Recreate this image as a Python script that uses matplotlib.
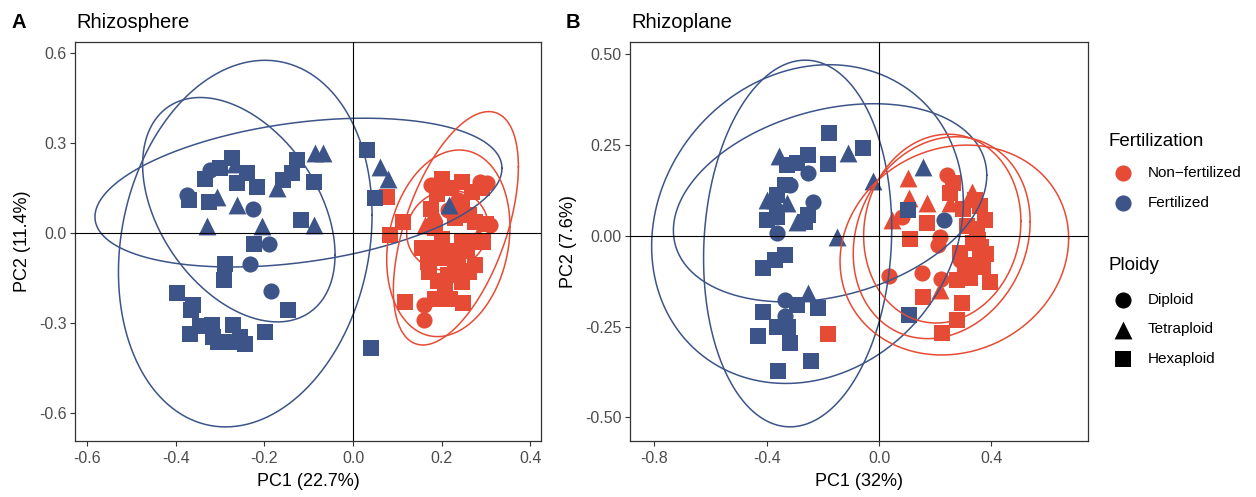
import numpy as np
import matplotlib
matplotlib.use("Agg")
import matplotlib.pyplot as plt
from matplotlib.ticker import FixedLocator, FormatStrFormatter

plt.rcParams['font.family'] = ['Liberation Sans', 'DejaVu Sans']
plt.rcParams['axes.unicode_minus'] = False

# ---------------- data ----------------
fert_colors = {"N": "#E64B35", "F": "#3C5488"}
fert_labels = ["Non\u2212fertilized", "Fertilized"]
ploidy_markers = {"D": "o", "T": "^", "H": "s"}
ploidy_labels = ["Diploid", "Tetraploid", "Hexaploid"]

# Panel A: Rhizosphere
rs_pc1 = [-0.272, -0.300, -0.322, -0.334, -0.240, -0.262, -0.217, -0.375, -0.371, -0.324,
          -0.307, -0.262, -0.225, -0.172, -0.157, -0.138, -0.127, -0.086, -0.068, -0.088,
          -0.117, -0.088, -0.329, -0.206, -0.266, -0.223, -0.189, -0.289, -0.232, -0.292,
          -0.186, -0.398, -0.361, -0.366, -0.146, -0.368, -0.345, -0.319, -0.315, -0.270,
          -0.255, -0.244, -0.277, -0.304, -0.198, 0.032, 0.040, 0.061, 0.080, 0.050, 0.217,
          0.076, 0.113, 0.083, 0.200, 0.177, 0.245, 0.286, 0.268, 0.177, 0.245,
          0.309, 0.275, 0.162, 0.230, 0.200, 0.207, 0.155, 0.245, 0.275, 0.170,
          0.200, 0.237, 0.275, 0.215, 0.245, 0.207, 0.185, 0.117, 0.159, 0.219,
          0.249, 0.159, 0.185, 0.294, 0.282, 0.214, 0.302, 0.183, 0.237,
          0.190, 0.222, 0.262, 0.190, 0.222, 0.258, 0.172, 0.230, 0.262, 0.192,
          0.292, 0.300]
rs_pc2 = [0.249, 0.216, 0.210, 0.182, 0.199, 0.166, 0.154, 0.127, 0.110, 0.104,
          0.121, 0.093, 0.082, 0.149, 0.177, 0.199, 0.243, 0.266, 0.266, 0.171,
          0.043, 0.027, 0.023, 0.023, 0.232, -0.037, -0.037, -0.103, -0.103, -0.157,
          -0.192, -0.201, -0.238, -0.257, -0.257, -0.337, -0.310, -0.307, -0.346, -0.307,
          -0.346, -0.368, -0.362, -0.362, -0.331, 0.277, -0.384, 0.221, 0.182, 0.116, 0.093,
          0.121, 0.038, -0.007, 0.182, 0.160, 0.171, 0.171, 0.138, 0.082, 0.099,
          0.027, 0.038, 0.027, 0.049, -0.018, -0.029, -0.051, -0.029, -0.029, -0.096,
          -0.084, -0.084, -0.107, -0.140, -0.162, -0.184, -0.218, -0.229, -0.240, -0.218,
          -0.234, -0.290, 0.016, -0.029, -0.007, 0.077, 0.167, 0.070, 0.110,
          0.130, 0.150, 0.060, -0.050, -0.060, -0.060, -0.130, -0.110, -0.130, -0.160,
          0.150, 0.030]
rs_fert = ["F"] * 51 + ["N"] * 51
rs_ploidy = ["H", "H", "D", "H", "H", "H", "H", "D", "H", "H",
             "T", "T", "D", "T", "H", "H", "H", "T", "T", "H",
             "H", "T", "T", "T", "T", "H", "D", "H", "D", "H",
             "D", "H", "H", "H", "H", "H", "H", "H", "H", "H",
             "H", "H", "H", "H", "H", "H", "H", "T", "T", "H", "T",
             "H", "H", "H", "H", "D", "H", "D", "H", "H", "H",
             "D", "H", "T", "H", "H", "T", "H", "H", "H", "H",
             "H", "H", "H", "H", "H", "H", "H", "H", "D", "H",
             "H", "D", "H", "H", "T", "D", "D", "T", "D",
             "H", "H", "H", "H", "H", "H", "H", "H", "H", "H",
             "H", "H"]

# Panel B: Rhizoplane
rp_pc1 = [-0.177, -0.056, -0.109, -0.181, -0.252, -0.355, -0.329, -0.293, -0.252, -0.335,
          -0.317, -0.370, -0.329, -0.236, -0.364, -0.400, -0.364, -0.293, -0.264, -0.252,
          -0.400, -0.364, -0.151, -0.335, -0.370, -0.412, -0.335, -0.293, -0.254, -0.216,
          -0.412, -0.335, -0.364, -0.430, -0.323, -0.317, -0.243, -0.359, -0.020, 0.158,
          0.104, 0.231, 0.108,
          0.104, 0.108, 0.170, 0.045, 0.081, 0.170, 0.243, 0.265, 0.253, 0.330,
          0.360, 0.377, 0.110, 0.217, 0.211, 0.354, 0.288, 0.360, 0.288, 0.371,
          0.037, 0.152, 0.221, 0.277, 0.324, 0.395, 0.158, 0.217, 0.295, 0.277,
          0.223, 0.253, 0.312, 0.336, -0.181, 0.300, 0.348,
          0.340, 0.362, 0.330, 0.380, 0.305]
rp_pc2 = [0.283, 0.242, 0.228, 0.198, 0.223, 0.220, 0.196, 0.200, 0.173, 0.140,
          0.140, 0.099, 0.090, 0.094, 0.113, 0.044, 0.053, 0.039, 0.039, 0.058,
          0.099, 0.009, -0.002, -0.052, -0.066, -0.089, -0.176, -0.190, -0.158, -0.199,
          -0.209, -0.222, -0.250, -0.277, -0.250, -0.296, -0.344, -0.372, 0.150, 0.191,
          0.072, 0.044, -0.218,
          0.159, 0.104, 0.090, 0.044, 0.053, 0.035, 0.168, 0.145, 0.118, 0.122,
          0.081, 0.044, -0.009, -0.002, -0.025, -0.011, -0.048, -0.057, -0.066, -0.085,
          -0.110, -0.103, -0.119, -0.121, -0.117, -0.126, -0.167, -0.149, -0.185, -0.231,
          -0.268, 0.090, 0.026, -0.020, -0.270, 0.075, 0.020,
          0.100, -0.030, -0.080, -0.050, -0.100]
rp_fert = ["F"] * 43 + ["N"] * 42
rp_ploidy = ["H", "H", "T", "H", "H", "T", "H", "H", "D", "H",
             "D", "T", "T", "D", "H", "H", "H", "T", "H", "H",
             "T", "D", "T", "H", "H", "H", "D", "H", "T", "H",
             "H", "D", "H", "H", "H", "H", "H", "H", "T", "T",
             "H", "D", "H",
             "T", "T", "T", "T", "D", "H", "D", "H", "H", "T",
             "H", "H", "H", "D", "D", "H", "H", "H", "D", "H",
             "D", "D", "D", "H", "H", "H", "H", "T", "H", "H",
             "H", "T", "H", "H", "H", "H", "H",
             "H", "H", "H", "H", "H"]

# 95% ellipses: centre, half x-range, half y-range, y-offset at rightmost point
rs_ell_fert = ["F", "F", "F", "N", "N", "N"]
rs_ell_cx = [-0.123, -0.2575, -0.243, 0.232, 0.215, 0.213]
rs_ell_cy = [0.135, 0.078, -0.035, 0.016, -0.034, 0.010]
rs_ell_ax = [0.459, 0.217, 0.286, 0.141, 0.139, 0.092]
rs_ell_ay = [0.248, 0.374, 0.611, 0.389, 0.311, 0.133]
rs_ell_dr = [0.081, -0.150, 0.095, 0.205, 0.055, 0.010]

rp_ell_fert = ["F", "F", "F", "N", "N", "N"]
rp_ell_cx = [-0.255, -0.1745, -0.290, 0.268, 0.223, 0.225]
rp_ell_cy = [0.0325, 0.091, -0.021, -0.039, -0.005, 0.020]
rp_ell_ax = [0.555, 0.558, 0.335, 0.407, 0.315, 0.280]
rp_ell_ay = [0.439, 0.273, 0.505, 0.289, 0.278, 0.260]
rp_ell_dr = [0.061, 0.076, 0.041, 0.032, 0.044, 0.020]

# ---------------- figure ----------------
W, H = 1256, 497
fig = plt.figure(figsize=(W / 100, H / 100), dpi=100)

marker_sizes = {"o": 135, "^": 165, "s": 135}


def draw_panel(ax, pc1, pc2, fert, ploidy, ecx, ecy, eax, eay, edr, efert,
               xlim, ylim, xticks, yticks, xfmt, yfmt, xlabel, ylabel):
    pc1 = np.asarray(pc1); pc2 = np.asarray(pc2)
    fert = np.asarray(fert); ploidy = np.asarray(ploidy)
    for f in ["N", "F"]:
        for p in ["D", "T", "H"]:
            m = (fert == f) & (ploidy == p)
            if m.any():
                mk = ploidy_markers[p]
                ax.scatter(pc1[m], pc2[m], s=marker_sizes[mk], marker=mk,
                           color=fert_colors[f], linewidths=0, zorder=3)
    t = np.linspace(0, 2 * np.pi, 300)
    for cx, cy, a, b, dr, f in zip(ecx, ecy, eax, eay, edr, efert):
        phi = np.arccos(np.clip(dr / b, -1, 1))
        ax.plot(cx + a * np.cos(t), cy + b * np.cos(t + phi),
                color=fert_colors[f], lw=1.1, zorder=4)
    ax.axhline(0, color="black", lw=0.8, zorder=5)
    ax.axvline(0, color="black", lw=0.8, zorder=5)
    ax.set_xlim(*xlim); ax.set_ylim(*ylim)
    ax.xaxis.set_major_locator(FixedLocator(xticks))
    ax.yaxis.set_major_locator(FixedLocator(yticks))
    ax.xaxis.set_major_formatter(FormatStrFormatter(xfmt))
    ax.yaxis.set_major_formatter(FormatStrFormatter(yfmt))
    ax.tick_params(length=3.5, width=0.8, color="#333333", labelcolor="#4D4D4D",
                   labelsize=11.5)
    ax.tick_params(axis="x", pad=4)
    ax.tick_params(axis="y", pad=2.5)
    for sp in ax.spines.values():
        sp.set_color("#333333"); sp.set_linewidth(0.9)
    ax.set_xlabel(xlabel, fontsize=13, labelpad=5)
    ax.set_ylabel(ylabel, fontsize=13, labelpad=6)


axA = fig.add_axes([75 / W, 1 - 441 / H, 466 / W, 399 / H])
draw_panel(axA, rs_pc1, rs_pc2, rs_fert, rs_ploidy,
           rs_ell_cx, rs_ell_cy, rs_ell_ax, rs_ell_ay, rs_ell_dr, rs_ell_fert,
           (-0.627, 0.424), (-0.693, 0.637),
           [-0.6, -0.4, -0.2, 0.0, 0.2, 0.4], [-0.6, -0.3, 0.0, 0.3, 0.6],
           "%.1f", "%.1f", "PC1 (22.7%)", "PC2 (11.4%)")

axB = fig.add_axes([630 / W, 1 - 441 / H, 458 / W, 399 / H])
draw_panel(axB, rp_pc1, rp_pc2, rp_fert, rp_ploidy,
           rp_ell_cx, rp_ell_cy, rp_ell_ax, rp_ell_ay, rp_ell_dr, rp_ell_fert,
           (-0.887, 0.744), (-0.565, 0.534),
           [-0.8, -0.4, 0.0, 0.4], [-0.50, -0.25, 0.0, 0.25, 0.50],
           "%.1f", "%.2f", "PC1 (32%)", "PC2 (7.6%)")

# overlay in pixel coordinates for titles and legend
ov = fig.add_axes([0, 0, 1, 1])
ov.set_xlim(0, W); ov.set_ylim(H, 0); ov.axis("off")
ov.patch.set_alpha(0)

ov.text(12, 28, "A", fontsize=14.5, fontweight="bold", va="baseline", ha="left")
ov.text(76, 28, "Rhizosphere", fontsize=14.5, va="baseline", ha="left")
ov.text(566, 28, "B", fontsize=14.5, fontweight="bold", va="baseline", ha="left")
ov.text(631, 28, "Rhizoplane", fontsize=14.5, va="baseline", ha="left")

lx, tx = 1122.5, 1148
ov.text(1109, 141, "Fertilization", fontsize=13.5, va="center", ha="left")
for i, (f, lab) in enumerate(zip(["N", "F"], fert_labels)):
    y = 173 + 30 * i
    ov.scatter([lx], [y], s=135, marker="o", color=fert_colors[f], linewidths=0)
    ov.text(tx, y, lab, fontsize=11, va="center", ha="left")
ov.text(1109, 266, "Ploidy", fontsize=13.5, va="center", ha="left")
for i, (p, lab) in enumerate(zip(["D", "T", "H"], ploidy_labels)):
    y = 300 + 29.5 * i
    mk = ploidy_markers[p]
    ov.scatter([lx], [y], s=marker_sizes[mk], marker=mk, color="black", linewidths=0)
    ov.text(tx, y, lab, fontsize=11, va="center", ha="left")

fig.savefig("out.png", dpi=100)
